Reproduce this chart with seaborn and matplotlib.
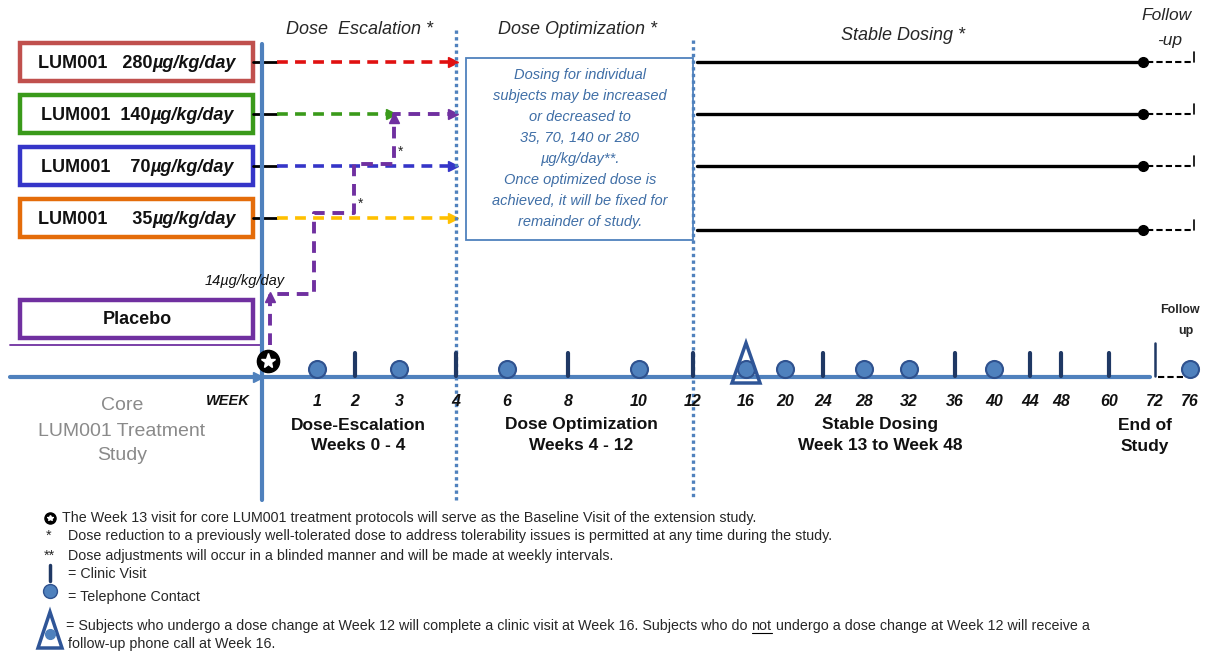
import matplotlib
matplotlib.use("Agg")
import matplotlib.pyplot as plt
import seaborn as sns
import pandas as pd
from matplotlib.patches import Rectangle, Polygon

sns.set_theme(style="white")
plt.rcParams['font.family'] = ['Liberation Sans', 'DejaVu Sans']

# ---------------- data ----------------
dose_names = ["LUM001   280", "LUM001  140", "LUM001    70", "LUM001     35"]
dose_unit = "µg/kg/day"
dose_levels = [280, 140, 70, 35]
dose_colors = ["#c0504d", "#3a9a1a", "#3535c8", "#e46c0a"]
dash_colors = ["#e01010", "#3a9a1a", "#3535c8", "#ffc000"]

weeks = [1, 2, 3, 4, 6, 8, 10, 12, 16, 20, 24, 28, 32, 36, 40, 44, 48, 60, 72, 76]
visit_type = ["phone", "clinic", "phone", "clinic", "phone", "clinic", "phone", "clinic",
              "either", "phone", "clinic", "phone", "phone", "clinic", "phone", "clinic",
              "clinic", "clinic", "clinic", "phone"]
# schematic (non-linear) horizontal position of each week
week_x = [317, 355, 399, 456, 507, 568, 639, 693, 746, 785, 823, 864, 909, 955, 994,
          1030, 1061, 1109, 1155, 1190]

# placebo escalation path: week -> dose (µg/kg/day)
esc_weeks = [0, 1, 2, 3, 4]
esc_doses = [14, 35, 70, 140, 140]

phases = ["Dose-Escalation\nWeeks 0 - 4", "Dose Optimization\nWeeks 4 - 12",
          "Stable Dosing\nWeek 13 to Week 48", "End of\nStudy"]

# ---------------- layout ----------------
W, H = 1207, 654
fig = plt.figure(figsize=(W / 100, H / 100), dpi=100)
ax = fig.add_axes([0, 0, 1, 1])
ax.set_xlim(0, W)
ax.set_ylim(H, 0)
ax.axis("off")

lane_y = {280: 62, 140: 114, 70: 166, 35: 218, 14: 294}
path_y = {14: 294, 35: 213, 70: 164, 140: 114}
path_x = {0: 270, 1: 314, 2: 354, 3: 394, 4: 450}
BLUE = "#4f81bd"
DARK = "#1f3864"
inv = ax.transData.inverted()

# ---- dose boxes ----
for i, (nm, col) in enumerate(zip(dose_names, dose_colors)):
    y = lane_y[dose_levels[i]]
    ax.add_patch(Rectangle((20, y - 19), 233, 38, fill=False, edgecolor=col, lw=3.2))
    ta = ax.text(0, y + 1, nm, ha="left", va="center", fontsize=13,
                 fontweight="bold", color="#111111")
    tb = ax.text(0, y + 1, dose_unit, ha="left", va="center", fontsize=13,
                 fontweight="bold", style="italic", color="#111111")
    fig.canvas.draw()
    wa = ta.get_window_extent().width
    wb = tb.get_window_extent().width
    x_start = 137 - (wa + wb) / 2
    ta.set_x(x_start)
    tb.set_x(x_start + wa)
ax.add_patch(Rectangle((20, 300), 233, 38, fill=False, edgecolor="#7030a0", lw=3.2))
ax.text(137, 319, "Placebo", ha="center", va="center", fontsize=13,
        fontweight="bold", color="#111111")
ax.plot([10, 262], [345, 345], color="#7030a0", lw=1.3)

# ---- dashed dose lines (escalation phase) ----
for i, lvl in enumerate(dose_levels):
    y = lane_y[lvl]
    ax.plot([253, 277], [y, y], color="black", lw=2)
    end = 450 if lvl != 140 else 388
    ax.plot([277, end], [y, y], color=dash_colors[i], lw=2.6, ls=(0, (3, 2)))
    ax.plot([end + 3], [y], marker=">", ms=7, color=dash_colors[i], mec=dash_colors[i])

# placebo escalation step path
px, py = [path_x[esc_weeks[0]]], [345]
for k in range(len(esc_weeks) - 1):
    yk = path_y[esc_doses[k]]
    px += [path_x[esc_weeks[k]], path_x[esc_weeks[k + 1]]]
    py += [yk, yk]
ax.plot(px, py, color="#7030a0", lw=2.8, ls=(0, (3, 2)))
ax.plot([270], [297], marker="^", ms=7, color="#7030a0")
ax.plot([path_x[3]], [path_y[140] + 4], marker="^", ms=7, color="#7030a0")
ax.plot([453], [path_y[140]], marker=">", ms=7, color="#7030a0")
ax.text(205, 281, "14µg/kg/day", fontsize=10.5, style="italic", va="center", color="#111111")
ax.text(358, 204, "*", fontsize=10, ha="left", va="center")
ax.text(398, 152, "*", fontsize=10, ha="left", va="center")

# ---- axes lines ----
ax.plot([262, 262], [44, 500], color=BLUE, lw=3, zorder=2)
ax.plot([10, 1150], [377, 377], color=BLUE, lw=3, zorder=1)
ax.plot([258], [377], marker=">", ms=7, color=BLUE)
for x0, y0 in [(456, 30), (693, 40)]:
    ax.plot([x0, x0], [y0, 500], color=BLUE, lw=2.4, ls=(0, (1, 1)), zorder=3)

# ---- optimization text box ----
ax.add_patch(Rectangle((466, 58), 227, 182, fill=False, edgecolor=BLUE, lw=1.3))
box_lines = ["Dosing for individual", "subjects may be increased", "or decreased to",
             "35, 70, 140 or 280", "µg/kg/day**.", "Once optimized dose is",
             "achieved, it will be fixed for", "remainder of study."]
for k, ln in enumerate(box_lines):
    ax.text(580, 75 + 21 * k, ln, ha="center", va="center", fontsize=10.5,
            style="italic", color="#3f6ea6")

# ---- stable dosing lines ----
stable_y = [62, 114, 166, 230]
for y in stable_y:
    df = pd.DataFrame({"x": [697, 1143], "y": [y, y]})
    sns.lineplot(data=df, x="x", y="y", ax=ax, color="black", lw=2.4, legend=False)
    ax.plot([1143], [y], "o", color="black", ms=7)
    ax.plot([1147, 1193], [y, y], color="black", lw=1.5, ls=(0, (3, 1.5)))
    ax.plot([1194, 1194], [y - 10, y], color="black", lw=1.2)

# ---- headers ----
ax.text(360, 29, "Dose  Escalation *", ha="center", va="center", fontsize=13, style="italic")
ax.text(577, 29, "Dose Optimization *", ha="center", va="center", fontsize=13, style="italic")
ax.text(903, 35, "Stable Dosing *", ha="center", va="center", fontsize=13, style="italic")
ax.text(1167, 16, "Follow", ha="center", va="center", fontsize=12.5, style="italic")
ax.text(1170, 40, "-up", ha="center", va="center", fontsize=12.5, style="italic")

# ---- timeline markers ----
tl = pd.DataFrame({"week": weeks, "type": visit_type, "x": week_x})
phone = tl[tl["type"].isin(["phone", "either"])].copy()
phone["y"] = 369
sns.scatterplot(data=phone, x="x", y="y", ax=ax, s=150, color=BLUE,
                edgecolor="#2f528f", linewidth=1.5, zorder=5, legend=False)
for _, r in tl[tl["type"] == "clinic"].iterrows():
    top = 343 if r["week"] == 72 else 353
    lw = 1.8 if r["week"] == 72 else 3
    ax.plot([r["x"], r["x"]], [top, 376], color=DARK, lw=lw, zorder=4)
for _, r in tl[tl["type"] == "either"].iterrows():
    ax.add_patch(Polygon([[r["x"], 343], [r["x"] - 14, 383], [r["x"] + 14, 383]],
                         closed=True, fill=False, edgecolor="#2f5597", lw=2.5, zorder=6))
ax.plot([1158, 1183], [377, 377], color="black", lw=1.5, ls=(0, (3, 1.5)), zorder=4)
ax.plot([268], [361], "o", color="black", ms=16, zorder=7)
ax.plot([268], [361], "*", color="white", ms=11, zorder=8)

for w, x in zip(weeks, week_x):
    ax.text(x, 402, str(w), ha="center", va="center", fontsize=11.5,
            fontweight="bold", style="italic", color="#111111")
ax.text(228, 401, "WEEK", ha="center", va="center", fontsize=10.5,
        fontweight="bold", style="italic", color="#111111")
ax.text(1180, 310, "Follow", ha="center", va="center", fontsize=9, fontweight="bold")
ax.text(1186, 331, "up", ha="center", va="center", fontsize=9, fontweight="bold")

phase_x = [358, 581, 880, 1145]
for x, p in zip(phase_x, phases):
    a, b = p.split("\n")
    ax.text(x, 425, a, ha="center", va="center", fontsize=12.5, fontweight="bold", color="#111111")
    ax.text(x, 446, b, ha="center", va="center", fontsize=12.5, fontweight="bold", color="#111111")

for k, ln in enumerate(["Core", "LUM001 Treatment", "Study"]):
    ax.text(122, 406 + 25 * k, ln, ha="center", va="center", fontsize=14, color="#8a8a8a")

# ---- footnotes ----
fs = 10.3
ax.plot([50], [518], "o", color="black", ms=8)
ax.plot([50], [518], "*", color="white", ms=4)
ax.text(62, 518, "The Week 13 visit for core LUM001 treatment protocols will serve as the Baseline Visit of the extension study.",
        fontsize=fs, va="center")
ax.text(46, 536, "*", fontsize=fs, va="center")
ax.text(68, 536, "Dose reduction to a previously well-tolerated dose to address tolerability issues is permitted at any time during the study.",
        fontsize=fs, va="center")
ax.text(44, 556, "**", fontsize=fs, va="center")
ax.text(68, 556, "Dose adjustments will occur in a blinded manner and will be made at weekly intervals.",
        fontsize=fs, va="center")
ax.plot([50, 50], [565, 581], color=DARK, lw=2.5)
ax.text(68, 574, "= Clinic Visit", fontsize=fs, va="center")
ax.plot([50], [591], "o", color=BLUE, mec="#2f528f", ms=10)
ax.text(68, 597, "= Telephone Contact", fontsize=fs, va="center")
ax.add_patch(Polygon([[50, 612], [38, 648], [62, 648]], closed=True, fill=False,
                     edgecolor="#2f5597", lw=2.5))
ax.plot([50], [634], "o", color=BLUE, ms=7)
t1 = ax.text(66, 626, "= Subjects who undergo a dose change at Week 12 will complete a clinic visit at Week 16. Subjects who do ",
             fontsize=fs, va="center")
fig.canvas.draw()
inv = ax.transData.inverted()
xe = inv.transform((t1.get_window_extent().x1, 0))[0]
t2 = ax.text(xe, 626, "not", fontsize=fs, va="center")
fig.canvas.draw()
xe2 = inv.transform((t2.get_window_extent().x1, 0))[0]
ax.plot([xe, xe2], [633, 633], color="black", lw=0.8)
ax.text(xe2, 626, " undergo a dose change at Week 12 will receive a", fontsize=fs, va="center")
ax.text(68, 644, "follow-up phone call at Week 16.", fontsize=fs, va="center")

fig.savefig("out.png", dpi=100)
